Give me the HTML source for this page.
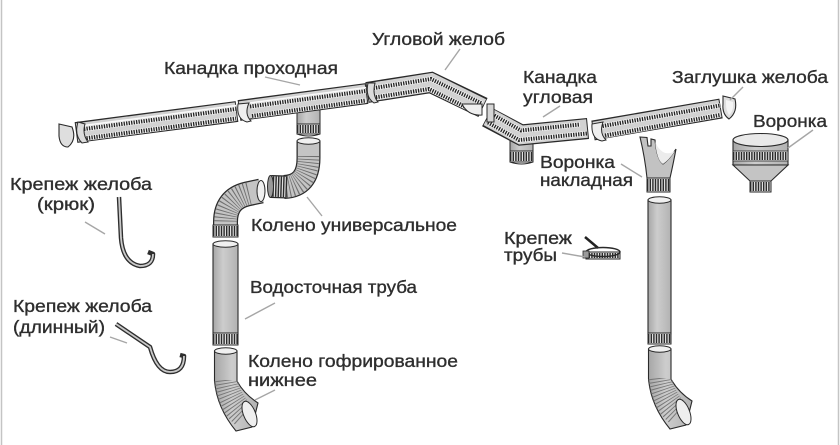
<!DOCTYPE html>
<html><head><meta charset="utf-8">
<style>
html,body{margin:0;padding:0;background:#fff;}
svg{display:block;}
text{font-family:"Liberation Sans","DejaVu Sans",sans-serif;font-size:17.5px;fill:#2e2e2e;stroke:#2e2e2e;stroke-width:0.35px;}
</style></head>
<body>
<svg width="840" height="445" viewBox="0 0 840 445" xmlns="http://www.w3.org/2000/svg">
<defs>
<linearGradient id="pg" x1="0" x2="1" y1="0" y2="0">
<stop offset="0" stop-color="#a6a6a6"/><stop offset="0.4" stop-color="#cdcdcd"/><stop offset="1" stop-color="#b2b2b2"/>
</linearGradient>
<clipPath id="elL"><path d="M214.5,380 Q217,408 236,431 L252,427 L258,403 Q244,394 237,380 Z"/></clipPath>
<clipPath id="elR"><path d="M648.5,378 Q651,406 670,429 L686,425 L692,401 Q678,392 671,378 Z"/></clipPath>
</defs>
<rect width="840" height="445" fill="#fff"/>
<line x1="1.5" y1="0" x2="1.5" y2="445" stroke="#c4c4c4" stroke-width="1.5"/>
<line x1="838.5" y1="0" x2="838.5" y2="445" stroke="#c4c4c4" stroke-width="1.5"/>

<!-- outlets under gutters -->
<rect x="297" y="110" width="23" height="15" fill="url(#pg)" stroke="#2a2a2a" stroke-width="1"/>
<rect x="297" y="124" width="23" height="10" fill="#e2e2e2" stroke="#2a2a2a" stroke-width="1"/>
<line x1="297" y1="129" x2="320" y2="129" stroke="#2a2a2a" stroke-width="8" stroke-dasharray="1.4 1.2"/>
<path d="M297,134 Q308.5,138 320,134" fill="none" stroke="#2a2a2a" stroke-width="1"/>

<rect x="510" y="138" width="23" height="14" fill="url(#pg)" stroke="#2a2a2a" stroke-width="1"/>
<rect x="510" y="151" width="23" height="11" fill="#e2e2e2" stroke="#2a2a2a" stroke-width="1"/>
<line x1="510" y1="156.5" x2="533" y2="156.5" stroke="#2a2a2a" stroke-width="9" stroke-dasharray="1.4 1.2"/>
<path d="M510,162 Q521.5,166 533,162" fill="none" stroke="#2a2a2a" stroke-width="1"/>

<!-- gutter S1 -->
<g fill="none">
<polyline points="76,132.5 237,111.5" stroke="#2a2a2a" stroke-width="21"/>
<polyline points="77,132.5 236,111.5" stroke="#d2d2d2" stroke-width="18.5"/>
<polyline points="80,126 236,105.5" stroke="#fafafa" stroke-width="1.5"/>
<polyline points="84,129 236,109" stroke="#f2f2f2" stroke-width="5"/>
<polyline points="84,129 236,109" stroke="#222" stroke-width="4" stroke-dasharray="1.3 1.2"/>
<polyline points="84,138.5 236,118.5" stroke="#f2f2f2" stroke-width="5"/>
<polyline points="84,138.5 236,118.5" stroke="#222" stroke-width="4" stroke-dasharray="1.3 1.2"/>
</g>
<path d="M78,122 Q74,135 82,143 L88,142 Q82,134 85,124 Z" fill="#dcdcdc" stroke="#2a2a2a" stroke-width="1"/>
<!-- end cap left -->
<path d="M59,124 L72,127 Q77,140 68,147 Q60,147 59,136 Z" fill="#dedede" stroke="#2a2a2a" stroke-width="1.1"/>

<!-- gutter S2 -->
<g fill="none">
<polyline points="239,110.5 367,93.5" stroke="#2a2a2a" stroke-width="21"/>
<polyline points="240,110.5 366,93.5" stroke="#d2d2d2" stroke-width="18.5"/>
<polyline points="242,104 366,87.5" stroke="#fafafa" stroke-width="1.5"/>
<polyline points="250,106.5 366,91" stroke="#f2f2f2" stroke-width="5"/>
<polyline points="250,106.5 366,91" stroke="#222" stroke-width="4" stroke-dasharray="1.3 1.2"/>
<polyline points="252,116 366,100.5" stroke="#f2f2f2" stroke-width="5"/>
<polyline points="252,116 366,100.5" stroke="#222" stroke-width="4" stroke-dasharray="1.3 1.2"/>
</g>
<path d="M238,104 Q236,119 247,122 L251,121 Q244,114 249,103 Z" fill="#efefef" stroke="#2a2a2a" stroke-width="1"/>

<!-- gutter S3 corner -->
<g fill="none" stroke-linejoin="miter">
<polyline points="367,92.5 431,82.5 483,107.5" stroke="#2a2a2a" stroke-width="21"/>
<polyline points="368,92.5 431,82.5 482,107.5" stroke="#d2d2d2" stroke-width="18.5"/>
<polyline points="371,88.5 431,79 482,103.5" stroke="#f2f2f2" stroke-width="5"/>
<polyline points="371,88.5 431,79 482,103.5" stroke="#222" stroke-width="4" stroke-dasharray="1.3 1.2"/>
<polyline points="371,98 429,89 478,113" stroke="#f2f2f2" stroke-width="5"/>
<polyline points="371,98 429,89 478,113" stroke="#222" stroke-width="4" stroke-dasharray="1.3 1.2"/>
</g>
<path d="M368,83 Q365,97 374,103 L378,102 Q372,95 375,83 Z" fill="#dcdcdc" stroke="#2a2a2a" stroke-width="1"/>
<path d="M462,104 Q468,116 482,115 L482,104 Z" fill="#efefef" stroke="#2a2a2a" stroke-width="1"/>

<!-- gutter S4 -->
<g fill="none" stroke-linejoin="miter">
<polyline points="487,117 521,135 588,128.5" stroke="#2a2a2a" stroke-width="21"/>
<polyline points="488,117 521,135 587,128.5" stroke="#d2d2d2" stroke-width="18.5"/>
<polyline points="490,113 521,130.5 580,124.5" stroke="#f2f2f2" stroke-width="5"/>
<polyline points="490,113 521,130.5 580,124.5" stroke="#222" stroke-width="4" stroke-dasharray="1.3 1.2"/>
<polyline points="488,122.5 519,140 587,133.5" stroke="#f2f2f2" stroke-width="5"/>
<polyline points="488,122.5 519,140 587,133.5" stroke="#222" stroke-width="4" stroke-dasharray="1.3 1.2"/>
</g>
<rect x="487" y="104" width="7" height="18" fill="#d6d6d6" stroke="#2a2a2a" stroke-width="1"/>

<!-- gutter S5 -->
<g fill="none">
<polyline points="593,130.5 721,108.5" stroke="#2a2a2a" stroke-width="20"/>
<polyline points="594,130.5 720,108.5" stroke="#d2d2d2" stroke-width="17.5"/>
<polyline points="600,126.5 720,105.5" stroke="#f2f2f2" stroke-width="5"/>
<polyline points="600,126.5 720,105.5" stroke="#222" stroke-width="4" stroke-dasharray="1.3 1.2"/>
<polyline points="605,135.5 720,115" stroke="#f2f2f2" stroke-width="5"/>
<polyline points="605,135.5 720,115" stroke="#222" stroke-width="4" stroke-dasharray="1.3 1.2"/>
</g>
<path d="M592,124 Q591,139 602,141 L606,140 Q599,133 603,122 Z" fill="#efefef" stroke="#2a2a2a" stroke-width="1"/>
<!-- end cap right -->
<path d="M723,96 L735,99 Q738,112 729,119 Q722,114 723,104 Z" fill="#dedede" stroke="#2a2a2a" stroke-width="1.1"/>
<path d="M726,100 L733,102 Q734,111 729,115 Q726,110 726,104 Z" fill="#f4f4f4"/>

<!-- upper elbow (universal) part 1 -->
<g fill="none">
<path d="M308.5,141 L308.5,158 Q308.5,186 284,187" stroke="#2a2a2a" stroke-width="24"/>
<path d="M308.5,141 L308.5,158 Q308.5,186 284,187" stroke="#c4c4c4" stroke-width="21.5"/>
<path d="M308.5,156 Q308.5,186 284,187" stroke="#707070" stroke-width="21.5" stroke-dasharray="0.9 2.1"/>
<path d="M287,187 L271,186.5" stroke="#2a2a2a" stroke-width="23"/>
<path d="M287,187 L271,186.5" stroke="#e0e0e0" stroke-width="20.5"/>
<path d="M287,187 L271,186.5" stroke="#2a2a2a" stroke-width="20.5" stroke-dasharray="1.4 1.2"/>
</g>
<ellipse cx="308.5" cy="141" rx="11.5" ry="3.2" fill="#f0f0f0" stroke="#2a2a2a" stroke-width="1"/>
<ellipse cx="270.5" cy="186.5" rx="3" ry="11" fill="#9a9a9a" stroke="#2a2a2a" stroke-width="1"/>

<!-- lower-left elbow part 2 -->
<g fill="none">
<path d="M261,191 L247,194 Q225.5,199 225.5,222 L225.5,226" stroke="#2a2a2a" stroke-width="25"/>
<path d="M261,191 L247,194 Q225.5,199 225.5,222 L225.5,226" stroke="#c4c4c4" stroke-width="22.5"/>
<path d="M249,193.5 Q225.5,199 225.5,222" stroke="#707070" stroke-width="22.5" stroke-dasharray="0.9 2.1"/>
</g>
<ellipse cx="261" cy="191" rx="4" ry="10.5" fill="#f0f0f0" stroke="#2a2a2a" stroke-width="1"/>
<rect x="213" y="225" width="25" height="12" fill="#e0e0e0" stroke="#2a2a2a" stroke-width="1"/>
<line x1="213" y1="231" x2="238" y2="231" stroke="#2a2a2a" stroke-width="10" stroke-dasharray="1.4 1.2"/>

<!-- left pipe -->
<rect x="213" y="244" width="25" height="90" fill="url(#pg)" stroke="#2a2a2a" stroke-width="1.1"/>
<rect x="213" y="333" width="25" height="12" fill="#e0e0e0" stroke="#2a2a2a" stroke-width="1"/>
<line x1="213" y1="339" x2="238" y2="339" stroke="#2a2a2a" stroke-width="10" stroke-dasharray="1.4 1.2"/>
<ellipse cx="225.5" cy="244" rx="12.5" ry="3.2" fill="#f0f0f0" stroke="#2a2a2a" stroke-width="1"/>

<!-- left lower elbow -->
<path d="M214.5,351 L214.5,381 Q217,408 236,431 L252,427 L258,403 Q244,394 237,381 L237,351 Z" fill="url(#pg)" stroke="#2a2a2a" stroke-width="1.1"/>
<path d="M225.5,380 Q228,402 245,416" fill="none" stroke="#777" stroke-width="26" stroke-dasharray="0.9 2.1" clip-path="url(#elL)"/>
<ellipse cx="249.5" cy="414" rx="6" ry="13.5" transform="rotate(-22 249.5 414)" fill="#efefef" stroke="#2a2a2a" stroke-width="1"/>
<ellipse cx="225.75" cy="351" rx="11.25" ry="3.2" fill="#f0f0f0" stroke="#2a2a2a" stroke-width="1"/>

<!-- funnel inlet (воронка накладная) -->
<path d="M640,137 L647,137.5 L648,146 L651,146 L651,139 L655,140 Q657,160 663,164 Q669,160 676,149 Q673,165 670,178 L647,178 Q645,158 640,137 Z" fill="#c2c2c2" stroke="#2a2a2a" stroke-width="1.1"/>
<path d="M655,141 Q657,161 663,164 Q669,160 675,151 Q668,155 663,152 Q657,148 655,141 Z" fill="#ececec"/>
<rect x="647" y="178" width="23" height="14" fill="#e0e0e0" stroke="#2a2a2a" stroke-width="1"/>
<line x1="647" y1="185" x2="670" y2="185" stroke="#2a2a2a" stroke-width="12" stroke-dasharray="1.4 1.2"/>

<!-- right pipe -->
<rect x="648" y="200" width="23" height="134" fill="url(#pg)" stroke="#2a2a2a" stroke-width="1.1"/>
<rect x="648" y="333" width="23" height="11" fill="#e0e0e0" stroke="#2a2a2a" stroke-width="1"/>
<line x1="648" y1="338.5" x2="671" y2="338.5" stroke="#2a2a2a" stroke-width="9" stroke-dasharray="1.4 1.2"/>
<ellipse cx="659.5" cy="200" rx="11.5" ry="3.2" fill="#f0f0f0" stroke="#2a2a2a" stroke-width="1"/>

<!-- right lower elbow -->
<path d="M648.5,349 L648.5,379 Q651,406 670,429 L686,425 L692,401 Q678,392 671,379 L671,349 Z" fill="url(#pg)" stroke="#2a2a2a" stroke-width="1.1"/>
<path d="M659.5,378 Q662,400 679,414" fill="none" stroke="#777" stroke-width="26" stroke-dasharray="0.9 2.1" clip-path="url(#elR)"/>
<ellipse cx="683.5" cy="412" rx="6" ry="13.5" transform="rotate(-22 683.5 412)" fill="#efefef" stroke="#2a2a2a" stroke-width="1"/>
<ellipse cx="659.75" cy="349" rx="11.25" ry="3.2" fill="#f0f0f0" stroke="#2a2a2a" stroke-width="1"/>

<!-- main funnel (воронка) -->
<rect x="733" y="140" width="55" height="25" fill="url(#pg)" stroke="#2a2a2a" stroke-width="1.1"/>
<rect x="733" y="151" width="55" height="10" fill="#e0e0e0" stroke="#2a2a2a" stroke-width="0.8"/>
<line x1="733" y1="156" x2="788" y2="156" stroke="#2a2a2a" stroke-width="8" stroke-dasharray="1.4 1.2"/>
<path d="M733,165 L750,181 L771,181 L788,165 Z" fill="#c4c4c4" stroke="#2a2a2a" stroke-width="1.1"/>
<ellipse cx="760.5" cy="140" rx="27.5" ry="6.5" fill="#e9e9e9" stroke="#2a2a2a" stroke-width="1.1"/>
<rect x="750" y="181" width="21" height="11" fill="#e0e0e0" stroke="#2a2a2a" stroke-width="1"/>
<line x1="750" y1="186.5" x2="771" y2="186.5" stroke="#2a2a2a" stroke-width="9" stroke-dasharray="1.4 1.2"/>

<!-- pipe clamp -->
<line x1="585" y1="237" x2="598" y2="248" stroke="#222" stroke-width="2.5"/>
<rect x="586" y="252" width="34" height="7" fill="#e0e0e0" stroke="#2a2a2a" stroke-width="1"/>
<line x1="586" y1="255.5" x2="620" y2="255.5" stroke="#2a2a2a" stroke-width="5" stroke-dasharray="1.4 1.2"/>
<ellipse cx="603" cy="252" rx="17" ry="4.5" fill="none" stroke="#2a2a2a" stroke-width="1.4"/>
<rect x="583" y="251" width="6" height="7" fill="#9a9a9a" stroke="#2a2a2a" stroke-width="0.8"/>

<!-- hooks -->
<path d="M119,197 L121,238 Q123,263 140,266 Q153,266 153,254 L148,252" fill="none" stroke="#2e2e2e" stroke-width="4.5" stroke-linejoin="round"/>
<path d="M119,197 L121,238 Q123,263 140,266 Q153,266 153,254" fill="none" stroke="#c9c9c9" stroke-width="1.8"/>
<path d="M116,324 L150,347 Q157,372 170,372 Q184,372 184,356 L180,355" fill="none" stroke="#2e2e2e" stroke-width="4.5" stroke-linejoin="round"/>
<path d="M116,324 L150,347 Q157,372 170,372 Q184,372 184,356" fill="none" stroke="#c9c9c9" stroke-width="1.8"/>

<!-- leader lines -->
<g stroke="#a6a6a6" stroke-width="1.4" fill="none">
<line x1="265" y1="77" x2="300" y2="85"/>
<line x1="460" y1="49" x2="445" y2="70"/>
<line x1="560" y1="106" x2="543" y2="117"/>
<line x1="743" y1="87" x2="730" y2="100"/>
<line x1="813" y1="130" x2="788" y2="148"/>
<line x1="621" y1="164" x2="642" y2="177"/>
<line x1="85" y1="222" x2="105" y2="234"/>
<line x1="307" y1="197" x2="322" y2="216"/>
<line x1="275" y1="303" x2="245" y2="319"/>
<line x1="110" y1="337" x2="127" y2="343"/>
<line x1="275" y1="390" x2="255" y2="400"/>
<line x1="562" y1="253" x2="585" y2="257"/>
</g>

<!-- labels -->
<text x="164" y="74" textLength="174" lengthAdjust="spacingAndGlyphs">Канадка проходная</text>
<text x="372" y="45" textLength="133" lengthAdjust="spacingAndGlyphs">Угловой желоб</text>
<text x="523" y="83" textLength="74" lengthAdjust="spacingAndGlyphs">Канадка</text>
<text x="523" y="103" textLength="70" lengthAdjust="spacingAndGlyphs">угловая</text>
<text x="672" y="83" textLength="156" lengthAdjust="spacingAndGlyphs">Заглушка желоба</text>
<text x="753" y="127" textLength="74" lengthAdjust="spacingAndGlyphs">Воронка</text>
<text x="540" y="168" textLength="75" lengthAdjust="spacingAndGlyphs">Воронка</text>
<text x="540" y="186" textLength="93" lengthAdjust="spacingAndGlyphs">накладная</text>
<text x="10" y="190" textLength="142" lengthAdjust="spacingAndGlyphs">Крепеж желоба</text>
<text x="37" y="210" textLength="58" lengthAdjust="spacingAndGlyphs">(крюк)</text>
<text x="251" y="231" textLength="206" lengthAdjust="spacingAndGlyphs">Колено универсальное</text>
<text x="250" y="293" textLength="167" lengthAdjust="spacingAndGlyphs">Водосточная труба</text>
<text x="13" y="312" textLength="139" lengthAdjust="spacingAndGlyphs">Крепеж желоба</text>
<text x="13" y="333" textLength="92" lengthAdjust="spacingAndGlyphs">(длинный)</text>
<text x="248" y="367" textLength="210" lengthAdjust="spacingAndGlyphs">Колено гофрированное</text>
<text x="248" y="386" textLength="69" lengthAdjust="spacingAndGlyphs">нижнее</text>
<text x="504" y="244" textLength="68" lengthAdjust="spacingAndGlyphs">Крепеж</text>
<text x="504" y="261" textLength="53" lengthAdjust="spacingAndGlyphs">трубы</text>
</svg>
</body></html>
